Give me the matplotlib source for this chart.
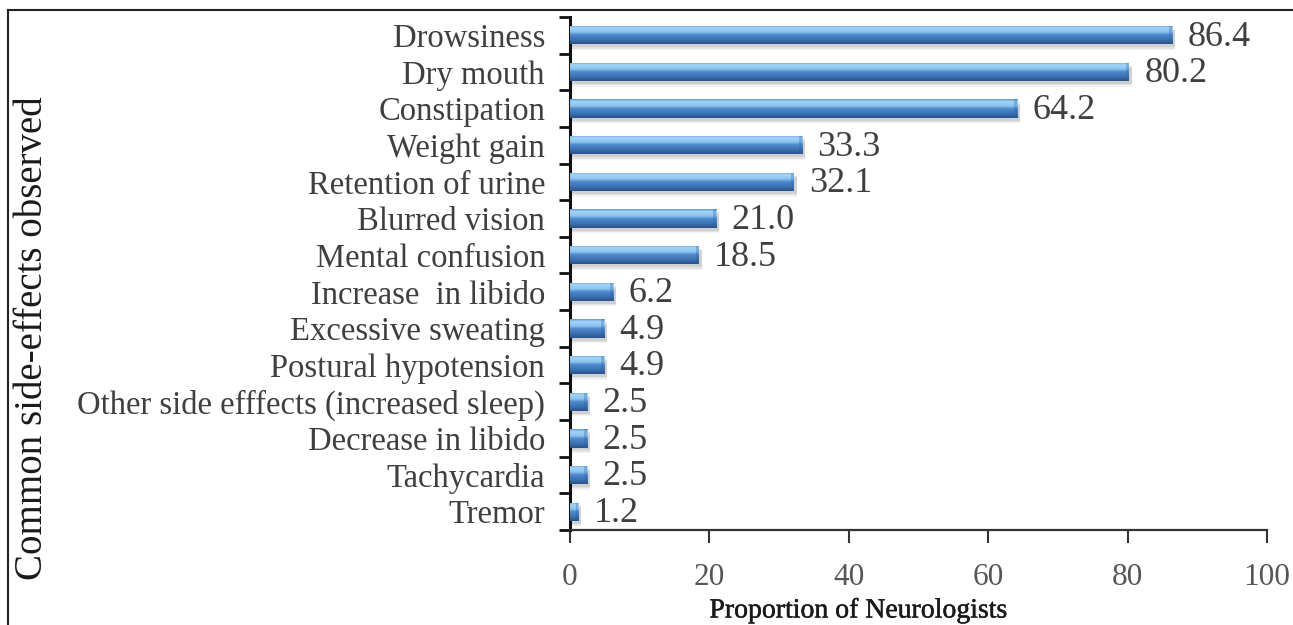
import numpy as np
import matplotlib
matplotlib.use("Agg")
import matplotlib.pyplot as plt
import matplotlib.patheffects as pe
from matplotlib.colors import LinearSegmentedColormap
from matplotlib.lines import Line2D

# ---- Data ----
side_effects = [
    "Drowsiness", "Dry mouth", "Constipation", "Weight gain",
    "Retention of urine", "Blurred vision", "Mental confusion",
    "Increase  in libido", "Excessive sweating", "Postural hypotension",
    "Other side efffects (increased sleep)", "Decrease in libido",
    "Tachycardia", "Tremor",
]
proportions = [86.4, 80.2, 64.2, 33.3, 32.1, 21.0, 18.5,
               6.2, 4.9, 4.9, 2.5, 2.5, 2.5, 1.2]
x_ticks = [0, 20, 40, 60, 80, 100]

SERIF = ["Liberation Serif", "DejaVu Serif"]
TEXT_GREY = "#3f3f3f"

# bar shading, top edge -> bottom edge
bar_cmap = LinearSegmentedColormap.from_list(
    "bar3d",
    [(0.00, "#5c98d4"), (0.12, "#a2d4f7"), (0.36, "#8cc4ef"),
     (0.50, "#4e8bcf"), (0.78, "#3b70b2"), (1.00, "#2a5288")],
)

fig = plt.figure(figsize=(12.93, 6.25), dpi=100)
ax = fig.add_axes([570 / 1293, 1 - 530 / 625, 697 / 1293, 513 / 625])

ypos = np.arange(len(side_effects))
bar_h = 0.5

# soft drop shadow under each bar
for k, alpha in enumerate([0.08, 0.12, 0.16]):
    ax.barh(ypos + 0.08 + 0.035 * (2 - k), np.array(proportions) + 0.4,
            height=bar_h, color="#707070", alpha=alpha, lw=0, zorder=1)

bars = ax.barh(ypos, proportions, height=bar_h, color="none", lw=0, zorder=2)
grad = np.linspace(0, 1, 64).reshape(-1, 1)
for rect in bars:
    x0, y0 = rect.get_x(), rect.get_y()
    w, h = rect.get_width(), rect.get_height()
    im = ax.imshow(grad, cmap=bar_cmap, aspect="auto", interpolation="bilinear",
                   extent=(x0, x0 + w, y0 + h, y0), zorder=3)
    im.set_clip_path(rect)
    # slightly darker rounded end
    cap = min(0.45, w * 0.25)
    ax.barh(y0 + h / 2, cap, left=x0 + w - cap, height=h,
            color="#2f5f9c", alpha=0.3, lw=0, zorder=4)

for y, v in zip(ypos, proportions):
    ax.text(v + 2.2, y + 0.05, f"{v:.1f}", va="center", ha="left",
            fontsize=26, family=SERIF, color=TEXT_GREY)

ax.set_xlim(0, 100)
ax.set_ylim(len(side_effects) - 0.5, -0.5)

ax.set_xticks(x_ticks)
ax.set_xticklabels([str(t) for t in x_ticks], fontsize=22.5, family=SERIF,
                   color="#555555")
ax.tick_params(axis="x", direction="out", length=9, width=1.5,
               color="#333333", pad=15)

ax.set_yticks(ypos)
ax.set_yticklabels(side_effects, fontsize=23.5, family=SERIF, color=TEXT_GREY)
ax.set_yticks(np.arange(-0.5, len(side_effects), 1.0), minor=True)
ax.tick_params(axis="y", which="major", length=0, pad=18)
ax.tick_params(axis="y", which="minor", direction="out", length=8,
               width=2, color="#111111")

for side in ("top", "right"):
    ax.spines[side].set_visible(False)
ax.spines["left"].set_linewidth(2.2)
ax.spines["left"].set_color("#111111")
ax.spines["bottom"].set_linewidth(1.6)
ax.spines["bottom"].set_color("#333333")

xl = fig.text(858 / 1293, 1 - 611 / 625, "Proportion of Neurologists",
              ha="center", va="center", fontsize=20, family=SERIF,
              color="#1a1a1a")
xl.set_path_effects([pe.withStroke(linewidth=0.35, foreground="#1a1a1a")])
fig.text(33 / 1293, 1 - 338 / 625, "Common side-effects observed",
         ha="center", va="center", rotation=90, fontsize=28, family=SERIF,
         color="#1a1a1a")

# outer frame (left and top edges)
fig.add_artist(Line2D([8 / 1293, 8 / 1293], [0, 1 - 10 / 625],
                      transform=fig.transFigure, color="#222222", lw=1.5))
fig.add_artist(Line2D([8 / 1293, 1], [1 - 10 / 625, 1 - 10 / 625],
                      transform=fig.transFigure, color="#222222", lw=1.5))

fig.savefig("out.png", dpi=100, facecolor="white")
